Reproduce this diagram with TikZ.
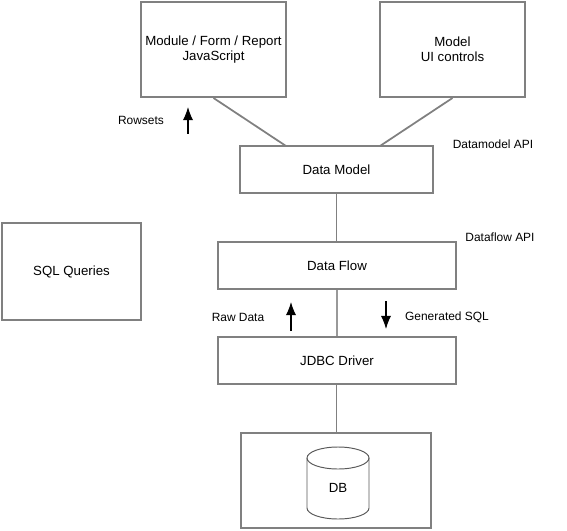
\documentclass[tikz,border=0pt]{standalone}
\usepackage{fontspec}
\setmainfont{Liberation Sans}
\usetikzlibrary{arrows.meta}
\tikzset{
  box/.style={draw=black!50, line width=1.15pt, align=center, inner sep=0pt},
  lab/.style={inner sep=0pt, align=center, font=\fontsize{6.8}{8}\selectfont},
  link/.style={draw=black!50, line width=0.6pt},
  wide/.style={draw=black!40, line width=1.05pt},
  slant/.style={draw=black!50, line width=1pt},
  can/.style={draw=black!65, line width=0.55pt},
  flow/.style={-{Latex[length=7.5pt, width=5.8pt]}, black, line width=0.6pt}
}
\begin{document}
\begin{tikzpicture}[x=0.02cm, y=-0.02cm, font=\fontsize{7.55}{8.6}\selectfont]
        \useasboundingbox (0, 0) rectangle (567, 530);
        \path (213.5, 49.5) node[box, minimum width=2.9cm, minimum height=1.9cm](Mod) {Module / Form / Report\\JavaScript}
              (452.5, 49.5) node[box, minimum width=2.9cm, minimum height=1.9cm](Mdl) {Model\\UI controls}
              (336.5, 169.5) node[box, minimum width=3.86cm, minimum height=0.94cm](DM) {Data Model}
              (337, 265.5) node[box, minimum width=4.76cm, minimum height=0.94cm](DF) {Data Flow}
              (337, 360.5) node[box, minimum width=4.76cm, minimum height=0.94cm](JD) {JDBC Driver}
              (336, 480.5) node[box, minimum width=3.8cm, minimum height=1.9cm](DBox) {}
              (71.5, 271.5) node[box, minimum width=2.78cm, minimum height=1.94cm](SQL) {SQL Queries}
              (338, 488) node[inner sep=0pt](DB) {DB}
              (141, 120) node[lab](Row) {Rowsets}
              (493, 144) node[lab](DmApi) {Datamodel API}
              (500, 237) node[lab](DfApi) {Dataflow API}
              (238, 317) node[lab](Raw) {Raw Data}
              (447, 317) node[lab](Gen) {Generated SQL};

        \path (286, 146) coordinate(DMa) (380, 146) coordinate(DMb)
              (188, 134) coordinate(Ra) (188, 107) coordinate(Rb)
              (291, 331) coordinate(Da) (291, 302) coordinate(Db)
              (386, 301) coordinate(Ga) (386, 329) coordinate(Gb);

        \draw[slant] (Mod.south) -- (DMa);
        \draw[slant] (Mdl.south) -- (DMb);
        \draw[link] (DM.south) -- (DM.south |- DF.north);
        \draw[wide] (DF) -- (JD);
        \draw[link] (DM.south |- JD.south) -- (DM.south |- DBox.north);
        \draw[flow] (Ra) -- (Rb);
        \draw[flow] (Da) -- (Db);
        \draw[flow] (Ga) -- (Gb);

        % the can round the DB label
        \draw[can] (338, 458) ellipse (31 and 11);
        \draw[can] (307, 458) -- (307, 508) arc (180:0:31 and 11) -- (369, 458);
\end{tikzpicture}
\end{document}
